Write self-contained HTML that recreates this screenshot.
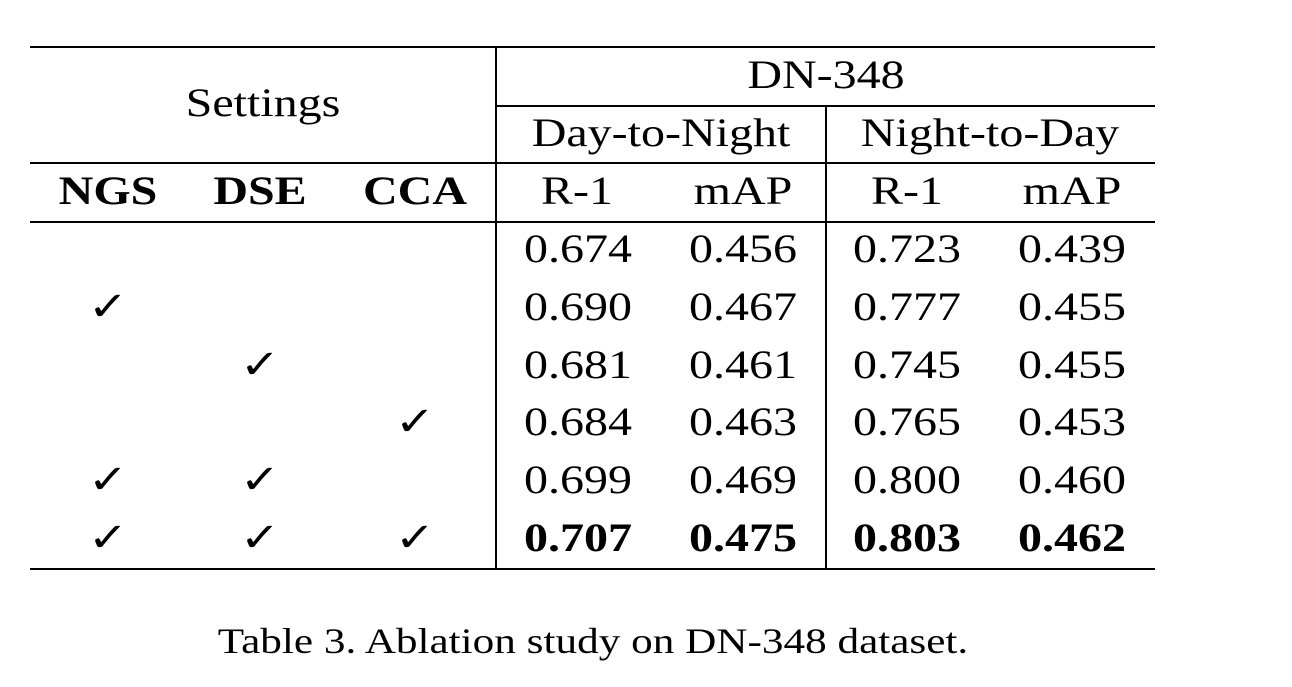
<!DOCTYPE html>
<html><head><meta charset="utf-8"><style>
body{margin:0;width:1292px;height:687px;background:#fff;position:relative;overflow:hidden;font-family:"Liberation Serif","DejaVu Serif",serif;color:#000}
.t{position:absolute;transform:translate(-50%,-50%) scaleX(1.2);white-space:nowrap;font-size:40px;line-height:1}
.b{font-weight:bold}
.h{position:absolute;height:2px;background:#000}
.v{position:absolute;width:2px;background:#000}
</style></head><body>
<div class="h" style="left:30px;width:1125px;top:46px"></div>
<div class="h" style="left:497px;width:658px;top:105px"></div>
<div class="h" style="left:30px;width:1125px;top:162px"></div>
<div class="h" style="left:30px;width:1125px;top:221px"></div>
<div class="h" style="left:30px;width:1125px;top:568px"></div>
<div class="v" style="left:495px;top:46px;height:524px"></div>
<div class="v" style="left:825px;top:105px;height:465px"></div>

<div class="t" style="left:263px;top:103px">Settings</div>
<div class="t" style="left:826px;top:75px">DN-348</div>
<div class="t" style="left:661px;top:133px">Day-to-Night</div>
<div class="t" style="left:990px;top:133px">Night-to-Day</div>

<div class="t b" style="left:108px;top:191px">NGS</div>
<div class="t b" style="left:260px;top:191px">DSE</div>
<div class="t b" style="left:415px;top:191px">CCA</div>
<div class="t" style="left:577px;top:191px">R-1</div>
<div class="t" style="left:743px;top:191px">mAP</div>
<div class="t" style="left:907px;top:191px">R-1</div>
<div class="t" style="left:1072px;top:191px">mAP</div>

<div class="t" style="left:578px;top:249px">0.674</div><div class="t" style="left:743px;top:249px">0.456</div><div class="t" style="left:907px;top:249px">0.723</div><div class="t" style="left:1072px;top:249px">0.439</div>
<div class="t" style="left:108px;top:307px">✓</div>
<div class="t" style="left:578px;top:307px">0.690</div><div class="t" style="left:743px;top:307px">0.467</div><div class="t" style="left:907px;top:307px">0.777</div><div class="t" style="left:1072px;top:307px">0.455</div>
<div class="t" style="left:260px;top:365px">✓</div>
<div class="t" style="left:578px;top:365px">0.681</div><div class="t" style="left:743px;top:365px">0.461</div><div class="t" style="left:907px;top:365px">0.745</div><div class="t" style="left:1072px;top:365px">0.455</div>
<div class="t" style="left:415px;top:422px">✓</div>
<div class="t" style="left:578px;top:422px">0.684</div><div class="t" style="left:743px;top:422px">0.463</div><div class="t" style="left:907px;top:422px">0.765</div><div class="t" style="left:1072px;top:422px">0.453</div>
<div class="t" style="left:108px;top:480px">✓</div><div class="t" style="left:260px;top:480px">✓</div>
<div class="t" style="left:578px;top:480px">0.699</div><div class="t" style="left:743px;top:480px">0.469</div><div class="t" style="left:907px;top:480px">0.800</div><div class="t" style="left:1072px;top:480px">0.460</div>
<div class="t" style="left:108px;top:538px">✓</div><div class="t" style="left:260px;top:538px">✓</div><div class="t" style="left:415px;top:538px">✓</div>
<div class="t b" style="left:578px;top:538px">0.707</div><div class="t b" style="left:743px;top:538px">0.475</div><div class="t b" style="left:907px;top:538px">0.803</div><div class="t b" style="left:1072px;top:538px">0.462</div>

<div class="t" style="left:593px;top:641px;font-size:36px">Table 3. Ablation study on DN-348 dataset.</div>
</body></html>
